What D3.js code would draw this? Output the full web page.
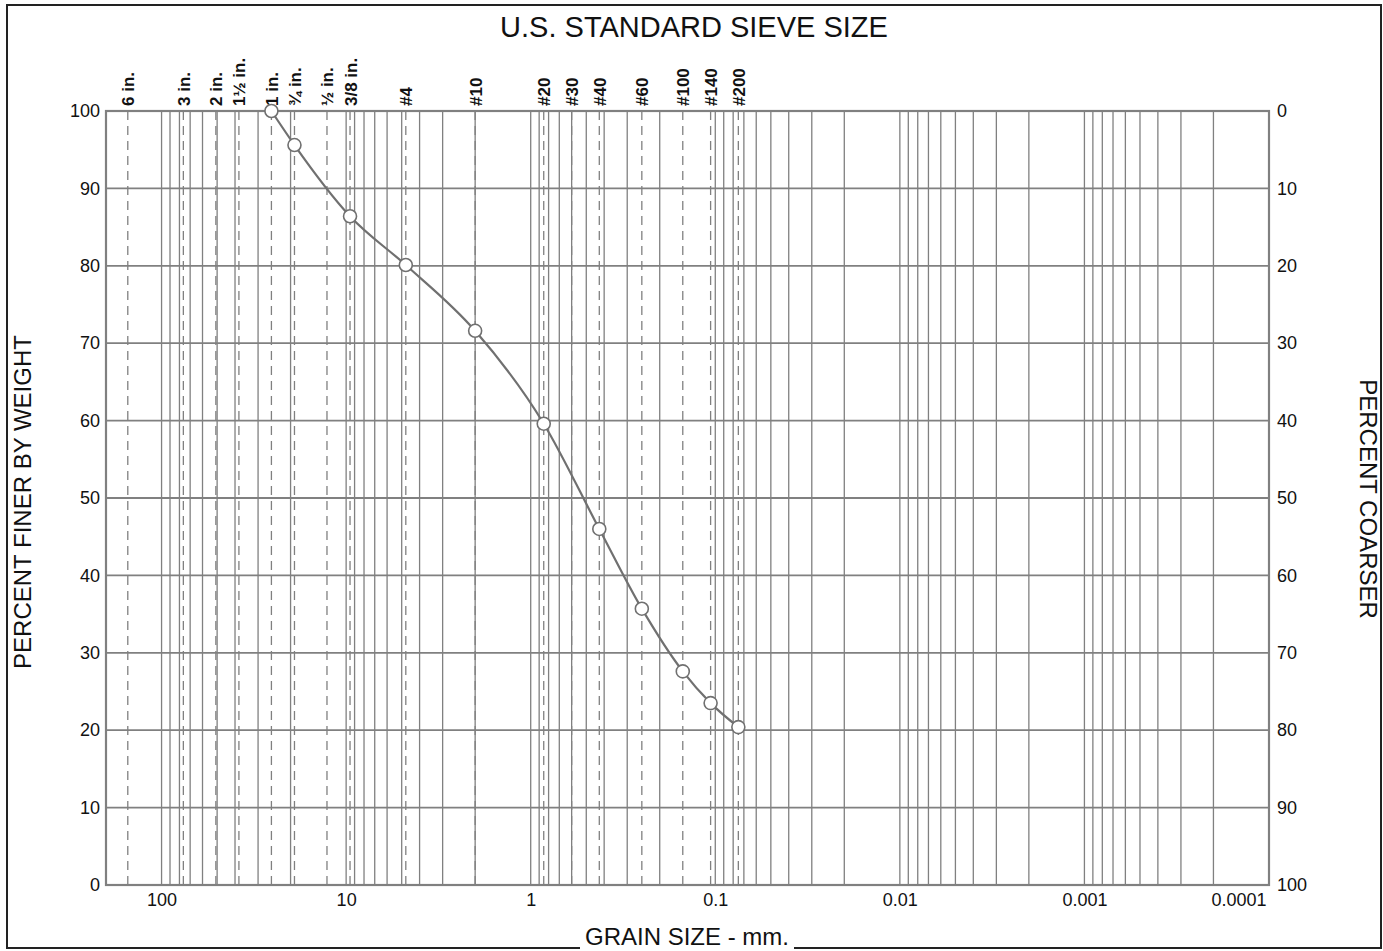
<!DOCTYPE html>
<html>
<head>
<meta charset="utf-8">
<script src="https://cdn.jsdelivr.net/npm/d3@7"></script>
<style>
  html, body { margin: 0; padding: 0; background: #fff; }
  svg { display: block; font-family: "Liberation Sans", Arial, sans-serif; }
</style>
</head>
<body>
<svg id="chart" width="1383" height="951"></svg>
<script>
// ---- data ----
const sieveLabels = ["6 in.", "3 in.", "2 in.", "1½ in.", "1 in.", "¾ in.", "½ in.", "3/8 in.", "#4", "#10", "#20", "#30", "#40", "#60", "#100", "#140", "#200"];
const sieveSizes  = [152.4, 76.2, 50.8, 38.1, 25.4, 19.05, 12.7, 9.525, 4.75, 2.0, 0.85, 0.6, 0.425, 0.25, 0.15, 0.106, 0.075];

const grainSize    = [25.4, 19.05, 9.525, 4.75, 2.0, 0.85, 0.425, 0.25, 0.15, 0.106, 0.075];
const percentFiner = [100, 95.6, 86.4, 80.1, 71.6, 59.6, 46.0, 35.7, 27.6, 23.5, 20.4];

const xTickValues = [100, 10, 1, 0.1, 0.01, 0.001, 0.0001];
const xTickLabels = ["100", "10", "1", "0.1", "0.01", "0.001", "0.0001"];
const yTickValues = [0, 10, 20, 30, 40, 50, 60, 70, 80, 90, 100];

// ---- layout ----
const pL = 106, pR = 1269, pT = 111, pB = 885;
const grid = "#808080";
const font = "'Liberation Sans', Arial, sans-serif";

const svg = d3.select("#chart");
const x = d3.scaleLog().domain([200, 0.0001]).range([pL, pR]);
const y = d3.scaleLinear().domain([0, 100]).range([pB, pT]);
const yc = d3.scaleLinear().domain([100, 0]).range([pB, pT]);

// outer frame
svg.append("rect").attr("x", 7).attr("y", 5).attr("width", 1374).attr("height", 943)
  .attr("fill", "none").attr("stroke", "#222").attr("stroke-width", 2);

// title
svg.append("text").attr("x", 694).attr("y", 37).attr("text-anchor", "middle")
  .attr("font-size", 29).attr("fill", "#111").text("U.S. STANDARD SIEVE SIZE");

// solid log grid lines
const minorTicks = x.ticks().filter(v => v < 199.9 && v > 0.00011);
svg.append("g").selectAll("line").data(minorTicks).join("line")
  .attr("x1", d => x(d)).attr("x2", d => x(d))
  .attr("y1", pT).attr("y2", pB)
  .attr("stroke", grid).attr("stroke-width", 1.3);

// horizontal grid lines
svg.append("g").selectAll("line").data(yTickValues.slice(1, -1)).join("line")
  .attr("x1", pL).attr("x2", pR)
  .attr("y1", d => y(d)).attr("y2", d => y(d))
  .attr("stroke", grid).attr("stroke-width", 1.8);

// dashed sieve lines
svg.append("g").selectAll("line").data(sieveSizes).join("line")
  .attr("x1", d => x(d)).attr("x2", d => x(d))
  .attr("y1", pT).attr("y2", pB)
  .attr("stroke", grid).attr("stroke-width", 1.3)
  .attr("stroke-dasharray", "9,6");

// plot border
svg.append("rect").attr("x", pL).attr("y", pT)
  .attr("width", pR - pL).attr("height", pB - pT)
  .attr("fill", "none").attr("stroke", grid).attr("stroke-width", 2.2);

// sieve labels (rotated)
svg.append("g").selectAll("text").data(sieveSizes).join("text")
  .attr("transform", d => `translate(${x(d) + 6.5},106) rotate(-90)`)
  .attr("text-anchor", "start")
  .attr("font-size", 17).attr("font-weight", "bold").attr("fill", "#111")
  .text((d, i) => sieveLabels[i]);

// left axis labels
const yAxisL = d3.axisLeft(y).tickValues(yTickValues).tickSize(0).tickPadding(6);
const gl = svg.append("g").attr("transform", `translate(${pL},0)`).call(yAxisL);
gl.select(".domain").remove();
gl.selectAll("text").attr("font-size", 18).attr("fill", "#111").attr("font-family", font);

// right axis labels (percent coarser)
const yAxisR = d3.axisRight(yc).tickValues(yTickValues).tickSize(0).tickPadding(8);
const gr = svg.append("g").attr("transform", `translate(${pR},0)`).call(yAxisR);
gr.select(".domain").remove();
gr.selectAll("text").attr("font-size", 18).attr("fill", "#111").attr("font-family", font);

// bottom axis labels
const xAxis = d3.axisBottom(x).tickValues(xTickValues).tickSize(0).tickPadding(8)
  .tickFormat((d, i) => xTickLabels[i]);
const gb = svg.append("g").attr("transform", `translate(0,${pB})`).call(xAxis);
gb.select(".domain").remove();
gb.selectAll("text").attr("font-size", 18).attr("fill", "#111").attr("font-family", font);
gb.selectAll(".tick").filter(d => d === 0.0001).select("text")
  .attr("text-anchor", "end").attr("x", -3);

// axis titles
svg.append("text").attr("transform", "translate(31,502) rotate(-90)")
  .attr("text-anchor", "middle").attr("font-size", 24).attr("fill", "#111")
  .text("PERCENT FINER BY WEIGHT");
svg.append("text").attr("transform", "translate(1360,499) rotate(90)")
  .attr("text-anchor", "middle").attr("font-size", 24).attr("fill", "#111")
  .text("PERCENT COARSER");
// knock the frame out behind the bottom title
svg.append("rect").attr("x", 580).attr("y", 925).attr("width", 214).attr("height", 26)
  .attr("fill", "#fff");
svg.append("text").attr("x", 687).attr("y", 945).attr("text-anchor", "middle")
  .attr("font-size", 24).attr("fill", "#111").text("GRAIN SIZE - mm.");

// gradation curve
const pts = grainSize.map((g, i) => [x(g), y(percentFiner[i])]);
svg.append("path")
  .attr("d", d3.line().curve(d3.curveMonotoneX)(pts))
  .attr("fill", "none").attr("stroke", "#707070").attr("stroke-width", 2.2);

svg.append("g").selectAll("circle").data(pts).join("circle")
  .attr("cx", d => d[0]).attr("cy", d => d[1]).attr("r", 6.5)
  .attr("fill", "#fff").attr("stroke", "#707070").attr("stroke-width", 1.6);
</script>
</body>
</html>
